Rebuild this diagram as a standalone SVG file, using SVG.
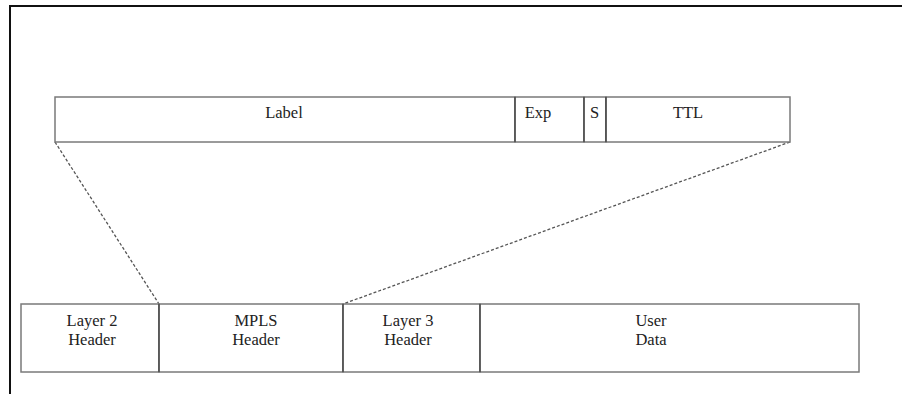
<svg xmlns="http://www.w3.org/2000/svg" width="902" height="394" viewBox="0 0 902 394">
<style>
.box{fill:#fff;stroke:#7a7a7a;stroke-width:1.5}
.div{stroke:#444;stroke-width:1.3}
.t{font-family:"Liberation Serif","Times New Roman",serif;font-size:16.5px;fill:#222;text-anchor:middle}
.dash{stroke:#555;stroke-width:1.3;stroke-dasharray:3 2;fill:none}
</style>
<rect width="902" height="394" fill="#fff"/>
<g id="frame">
<line x1="9" y1="6" x2="902" y2="6" stroke="#111" stroke-width="2"/>
<line x1="10" y1="5" x2="10" y2="394" stroke="#111" stroke-width="2"/>
</g>
<g id="connectors">
<line class="dash" x1="55" y1="142" x2="159" y2="304"/>
<line class="dash" x1="790" y1="142" x2="343" y2="304"/>
</g>
<g id="label-field">
<rect class="box" x="55" y="97" width="460" height="45"/>
<text class="t" x="284" y="118">Label</text>
</g>
<g id="exp-field">
<rect class="box" x="515" y="97" width="69" height="45"/>
<line class="div" x1="515" y1="97" x2="515" y2="142"/>
<text class="t" x="538" y="118">Exp</text>
</g>
<g id="s-field">
<rect class="box" x="584" y="97" width="22" height="45"/>
<line class="div" x1="584" y1="97" x2="584" y2="142"/>
<line class="div" x1="606" y1="97" x2="606" y2="142"/>
<text class="t" x="594.5" y="118">S</text>
</g>
<g id="ttl-field">
<rect class="box" x="606" y="97" width="184" height="45"/>
<line class="div" x1="606" y1="97" x2="606" y2="142"/>
<text class="t" x="688" y="118">TTL</text>
</g>
<g id="layer2-header">
<rect class="box" x="21" y="304" width="138" height="68"/>
<text class="t" x="92" y="326">Layer 2</text>
<text class="t" x="92" y="345">Header</text>
</g>
<g id="mpls-header">
<rect class="box" x="159" y="304" width="184" height="68"/>
<line class="div" x1="159" y1="304" x2="159" y2="372"/>
<text class="t" x="256" y="326">MPLS</text>
<text class="t" x="256" y="345">Header</text>
</g>
<g id="layer3-header">
<rect class="box" x="343" y="304" width="137" height="68"/>
<line class="div" x1="343" y1="304" x2="343" y2="372"/>
<text class="t" x="408" y="326">Layer 3</text>
<text class="t" x="408" y="345">Header</text>
</g>
<g id="user-data">
<rect class="box" x="480" y="304" width="379" height="68"/>
<line class="div" x1="480" y1="304" x2="480" y2="372"/>
<text class="t" x="651" y="326">User</text>
<text class="t" x="651" y="345">Data</text>
</g>
</svg>
